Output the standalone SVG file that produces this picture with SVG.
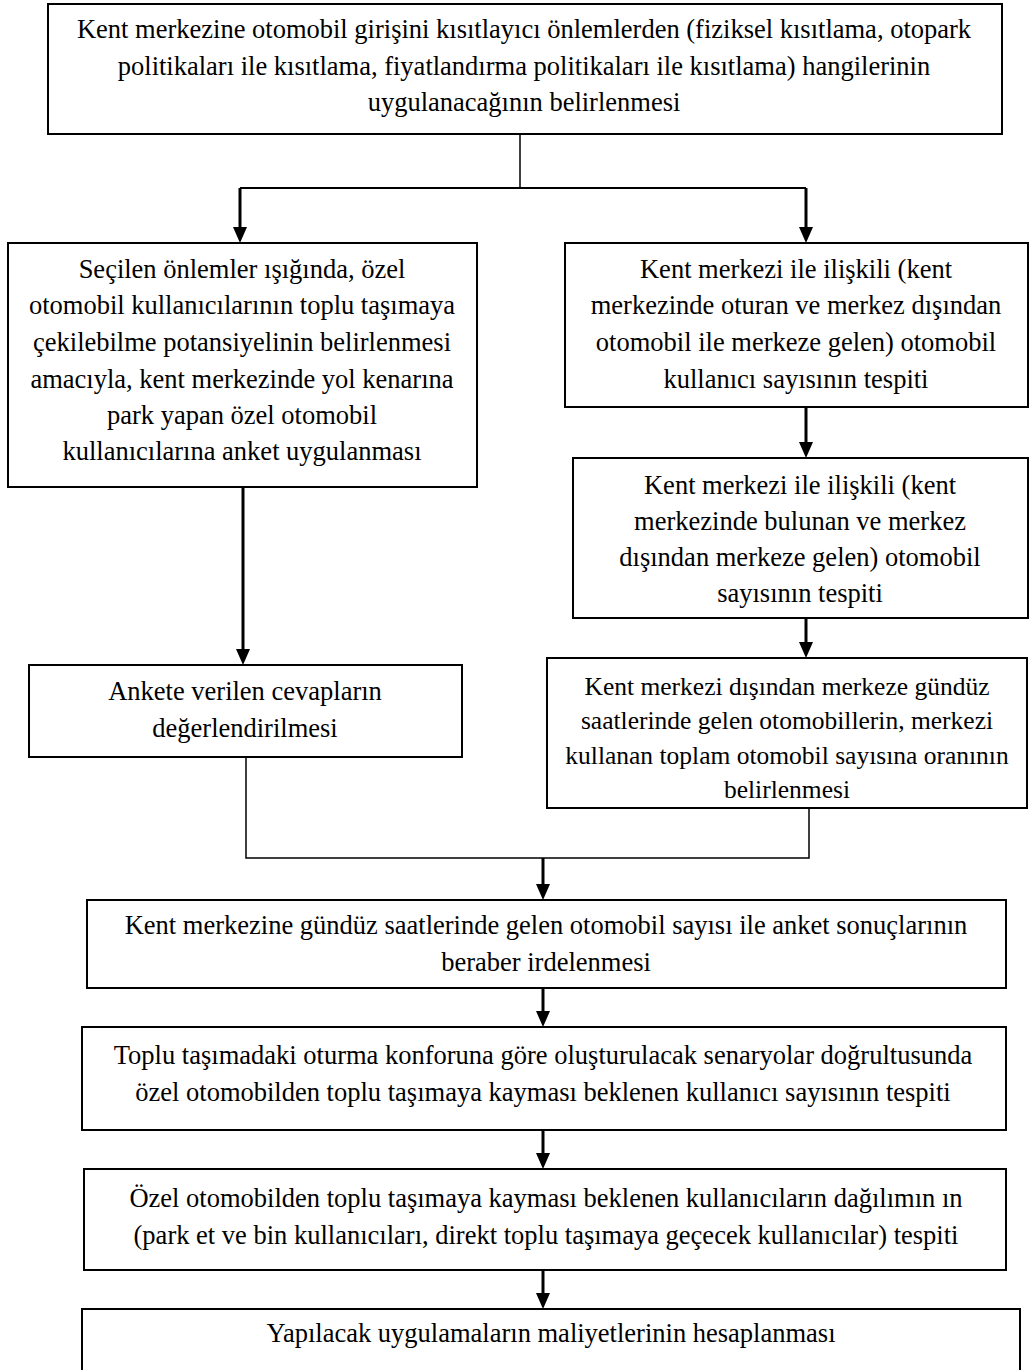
<svg xmlns="http://www.w3.org/2000/svg" width="1031" height="1370" viewBox="0 0 1031 1370">
<defs>
<style>
.box{fill:#fff;stroke:#000;stroke-width:2}
.t{font-family:"Liberation Serif","Times New Roman",serif;font-size:26.5px;fill:#000;text-anchor:middle}
.s{font-size:25.5px}
.c{fill:none;stroke:#000;stroke-width:3}
.thin{fill:none;stroke:#000;stroke-width:1.5}
</style>
<marker id="ah" viewBox="0 0 16 14" refX="6" refY="7" markerWidth="16" markerHeight="14" markerUnits="userSpaceOnUse" orient="auto">
<path d="M0,0 L16,7 L0,14 z" fill="#000"/>
</marker>
</defs>
<rect width="1031" height="1370" fill="#fff"/>
<g id="connectors">
<line class="thin" x1="520" y1="134" x2="520" y2="188"/>
<polyline class="thin" style="stroke-width:2" points="240,188 806,188"/>
<line class="c" x1="240" y1="188" x2="240" y2="233" marker-end="url(#ah)"/>
<line class="c" x1="806" y1="188" x2="806" y2="233" marker-end="url(#ah)"/>
<line class="c" x1="806" y1="407" x2="806" y2="448" marker-end="url(#ah)"/>
<line class="c" x1="806" y1="618" x2="806" y2="648" marker-end="url(#ah)"/>
<line class="c" x1="243" y1="487" x2="243" y2="655" marker-end="url(#ah)"/>
<polyline class="thin" points="246,757 246,858 809,858 809,808"/>
<line class="c" x1="543" y1="858" x2="543" y2="890" marker-end="url(#ah)"/>
<line class="c" x1="543" y1="988" x2="543" y2="1017" marker-end="url(#ah)"/>
<line class="c" x1="543" y1="1130" x2="543" y2="1159" marker-end="url(#ah)"/>
<line class="c" x1="543" y1="1270" x2="543" y2="1299" marker-end="url(#ah)"/>
</g>
<g id="n1">
<rect class="box" x="48" y="4" width="954" height="130"/>
<text class="t" x="524" y="38">Kent merkezine otomobil girişini kısıtlayıcı önlemlerden (fiziksel kısıtlama, otopark</text>
<text class="t" x="524" y="75">politikaları ile kısıtlama, fiyatlandırma politikaları ile kısıtlama) hangilerinin</text>
<text class="t" x="524" y="111">uygulanacağının belirlenmesi</text>
</g>
<g id="n2">
<rect class="box" x="8" y="243" width="469" height="244"/>
<text class="t" x="242" y="278">Seçilen önlemler ışığında, özel</text>
<text class="t" x="242" y="314">otomobil kullanıcılarının toplu taşımaya</text>
<text class="t" x="242" y="351">çekilebilme potansiyelinin belirlenmesi</text>
<text class="t" x="242" y="388">amacıyla, kent merkezinde yol kenarına</text>
<text class="t" x="242" y="424">park yapan özel otomobil</text>
<text class="t" x="242" y="460">kullanıcılarına anket uygulanması</text>
</g>
<g id="n3">
<rect class="box" x="565" y="243" width="463" height="164"/>
<text class="t" x="796" y="278">Kent merkezi ile ilişkili (kent</text>
<text class="t" x="796" y="314">merkezinde oturan ve merkez dışından</text>
<text class="t" x="796" y="351">otomobil ile merkeze gelen)  otomobil</text>
<text class="t" x="796" y="388">kullanıcı sayısının tespiti</text>
</g>
<g id="n4">
<rect class="box" x="573" y="458" width="455" height="160"/>
<text class="t" x="800" y="494">Kent merkezi ile ilişkili (kent</text>
<text class="t" x="800" y="530">merkezinde bulunan ve merkez</text>
<text class="t" x="800" y="566">dışından merkeze gelen)  otomobil</text>
<text class="t" x="800" y="602">sayısının tespiti</text>
</g>
<g id="n5">
<rect class="box" x="547" y="658" width="480" height="150"/>
<text class="t s" x="787" y="695">Kent merkezi dışından merkeze gündüz</text>
<text class="t s" x="787" y="729">saatlerinde gelen otomobillerin, merkezi</text>
<text class="t s" x="787" y="764">kullanan toplam otomobil sayısına oranının</text>
<text class="t s" x="787" y="798">belirlenmesi</text>
</g>
<g id="n6">
<rect class="box" x="29" y="665" width="433" height="92"/>
<text class="t" x="245" y="700">Ankete verilen cevapların</text>
<text class="t" x="245" y="737">değerlendirilmesi</text>
</g>
<g id="n7">
<rect class="box" x="87" y="900" width="919" height="88"/>
<text class="t" x="546" y="934">Kent merkezine gündüz saatlerinde gelen otomobil sayısı ile anket sonuçlarının</text>
<text class="t" x="546" y="971">beraber irdelenmesi</text>
</g>
<g id="n8">
<rect class="box" x="82" y="1027" width="924" height="103"/>
<text class="t" x="543" y="1064">Toplu taşımadaki oturma konforuna göre oluşturulacak senaryolar doğrultusunda</text>
<text class="t" x="543" y="1101">özel otomobilden toplu taşımaya kayması beklenen kullanıcı sayısının tespiti</text>
</g>
<g id="n9">
<rect class="box" x="84" y="1169" width="922" height="101"/>
<text class="t" x="546" y="1207">Özel otomobilden toplu taşımaya kayması beklenen kullanıcıların dağılımın ın</text>
<text class="t" x="546" y="1244">(park et ve bin kullanıcıları, direkt toplu taşımaya geçecek kullanıcılar) tespiti</text>
</g>
<g id="n10">
<rect class="box" x="82" y="1309" width="938" height="80"/>
<text class="t" x="551" y="1342">Yapılacak uygulamaların maliyetlerinin hesaplanması</text>
</g>
</svg>
